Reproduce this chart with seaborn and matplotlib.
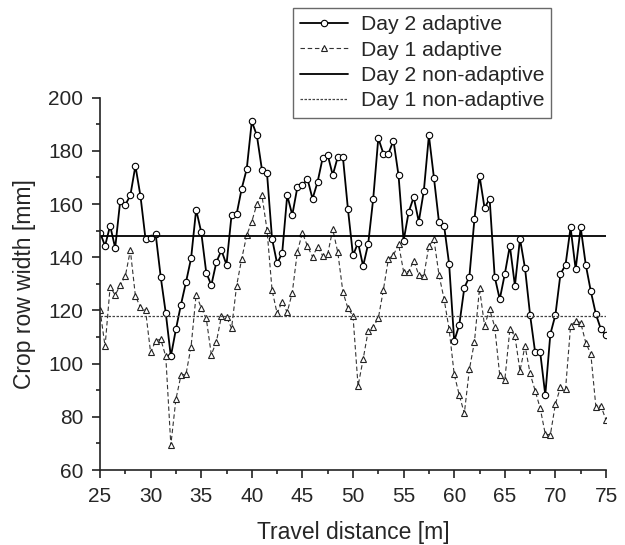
import numpy as np
import pandas as pd
import matplotlib
matplotlib.use("Agg")
import matplotlib.pyplot as plt
import seaborn as sns

distance = [25 + 0.5 * i for i in range(101)]

day2_adaptive = [
    149.3, 144.3, 151.9, 143.5, 161.3, 159.7, 163.3, 174.4, 163.0, 146.8,
    147.2, 148.7, 132.6, 119.0, 102.7, 112.9, 122.2, 130.7, 139.6, 157.9,
    149.5, 134.2, 129.5, 138.2, 142.6, 137.2, 155.9, 156.2, 165.8, 173.2,
    191.1, 185.8, 173.0, 171.7, 147.0, 137.7, 141.5, 163.3, 155.9, 166.3,
    167.1, 169.5, 162.0, 168.3, 177.3, 178.5, 170.9, 177.8, 177.8, 158.1,
    140.7, 145.5, 136.7, 145.0, 162.1, 184.8, 179.0, 179.0, 183.9, 170.8,
    146.2, 157.0, 162.6, 153.4, 165.0, 185.8, 169.8, 153.1, 151.9, 137.4,
    108.5, 114.5, 128.5, 132.7, 154.4, 170.7, 158.5, 162.1, 132.7, 124.2,
    133.7, 144.3, 129.3, 147.0, 135.8, 118.3, 104.2, 104.2, 88.2, 111.1,
    118.3, 133.7, 137.1, 151.2, 135.5, 151.2, 137.2, 127.2, 118.6, 112.9,
    110.6,
]

day1_adaptive = [
    120.2, 106.5, 128.9, 125.8, 129.5, 132.9, 142.6, 125.4, 121.2, 120.0,
    104.2, 108.6, 109.2, 102.7, 69.4, 86.6, 95.6, 96.1, 106.4, 126.0,
    121.0, 117.0, 103.4, 108.2, 117.9, 117.6, 113.3, 129.3, 139.4, 148.3,
    153.4, 160.0, 163.3, 150.4, 127.7, 118.9, 123.3, 119.3, 126.7, 142.1,
    149.2, 144.2, 140.2, 144.0, 140.6, 141.2, 150.5, 141.8, 127.0, 120.8,
    117.9, 91.6, 101.6, 112.4, 113.9, 117.0, 127.7, 139.4, 140.8, 145.0,
    134.6, 134.6, 138.7, 133.4, 133.1, 144.3, 146.7, 133.3, 124.3, 112.9,
    96.0, 88.2, 81.3, 97.8, 108.2, 128.3, 114.3, 120.4, 113.9, 95.6,
    93.8, 112.9, 110.4, 97.3, 106.7, 96.3, 89.8, 83.2, 73.5, 73.2,
    84.8, 91.1, 90.3, 114.1, 116.1, 115.4, 107.9, 103.6, 83.8, 84.1,
    78.8,
]

day2_nonadaptive = 148.0
day1_nonadaptive = 118.0

labels = ["Day 2 adaptive", "Day 1 adaptive", "Day 2 non-adaptive", "Day 1 non-adaptive"]

sns.set_theme(style="ticks")
plt.rcParams["font.family"] = ["Liberation Sans", "DejaVu Sans"]

fig = plt.figure(figsize=(6.25, 5.45), dpi=100)
ax = fig.add_axes([0.16, 0.1376, 0.8096, 0.6831])

df2 = pd.DataFrame({"x": distance, "y": day2_adaptive})
df1 = pd.DataFrame({"x": distance, "y": day1_adaptive})

sns.lineplot(data=df2, x="x", y="y", ax=ax, color="black", linewidth=1.3,
             marker="o", markersize=4.6, markerfacecolor="white",
             markeredgecolor="black", markeredgewidth=0.8, label=labels[0])
sns.lineplot(data=df1, x="x", y="y", ax=ax, color="#333333", linewidth=0.8,
             linestyle=(0, (4, 2.5)), marker="^", markersize=4.6,
             markerfacecolor="white", markeredgecolor="#222222",
             markeredgewidth=0.8, label=labels[1])
ax.axhline(day2_nonadaptive, color="black", linewidth=1.3, label=labels[2])
ax.axhline(day1_nonadaptive, color="#444444", linewidth=0.9,
           linestyle=(0, (2, 1.2)), label=labels[3])

ax.set_xlim(25, 75)
ax.set_ylim(60, 200)
ax.set_xticks(np.arange(25, 76, 5))
ax.set_xticks(np.arange(27.5, 75, 5), minor=True)
ax.set_yticks(np.arange(60, 201, 20))
ax.set_yticks(np.arange(70, 200, 20), minor=True)
ax.tick_params(axis="both", which="major", direction="out", length=6,
               width=1.2, color="#222222", labelsize=15, pad=6)
ax.tick_params(axis="both", which="minor", direction="out", length=3,
               width=1.2, color="#222222")
ax.set_xlabel("Travel distance [m]", fontsize=16.5, labelpad=11)
ax.set_ylabel("Crop row width [mm]", fontsize=16.5, labelpad=9)
for side in ["top", "right"]:
    ax.spines[side].set_visible(False)
for side in ["left", "bottom"]:
    ax.spines[side].set_linewidth(1.2)
    ax.spines[side].set_color("#222222")
ax.grid(False)

handles, labs = ax.get_legend_handles_labels()
ax.get_legend().remove()
leg = fig.legend(handles, labs, loc="upper left",
                 bbox_to_anchor=(293 / 625, 1 - 8 / 545),
                 frameon=True, fancybox=False, fontsize=15.2,
                 handlelength=2.25, handletextpad=0.6, labelspacing=0.3,
                 borderpad=0.35, borderaxespad=0)
leg.get_frame().set_edgecolor("#444444")
leg.get_frame().set_linewidth(1.0)

fig.savefig("out.png", dpi=100, facecolor="white")
